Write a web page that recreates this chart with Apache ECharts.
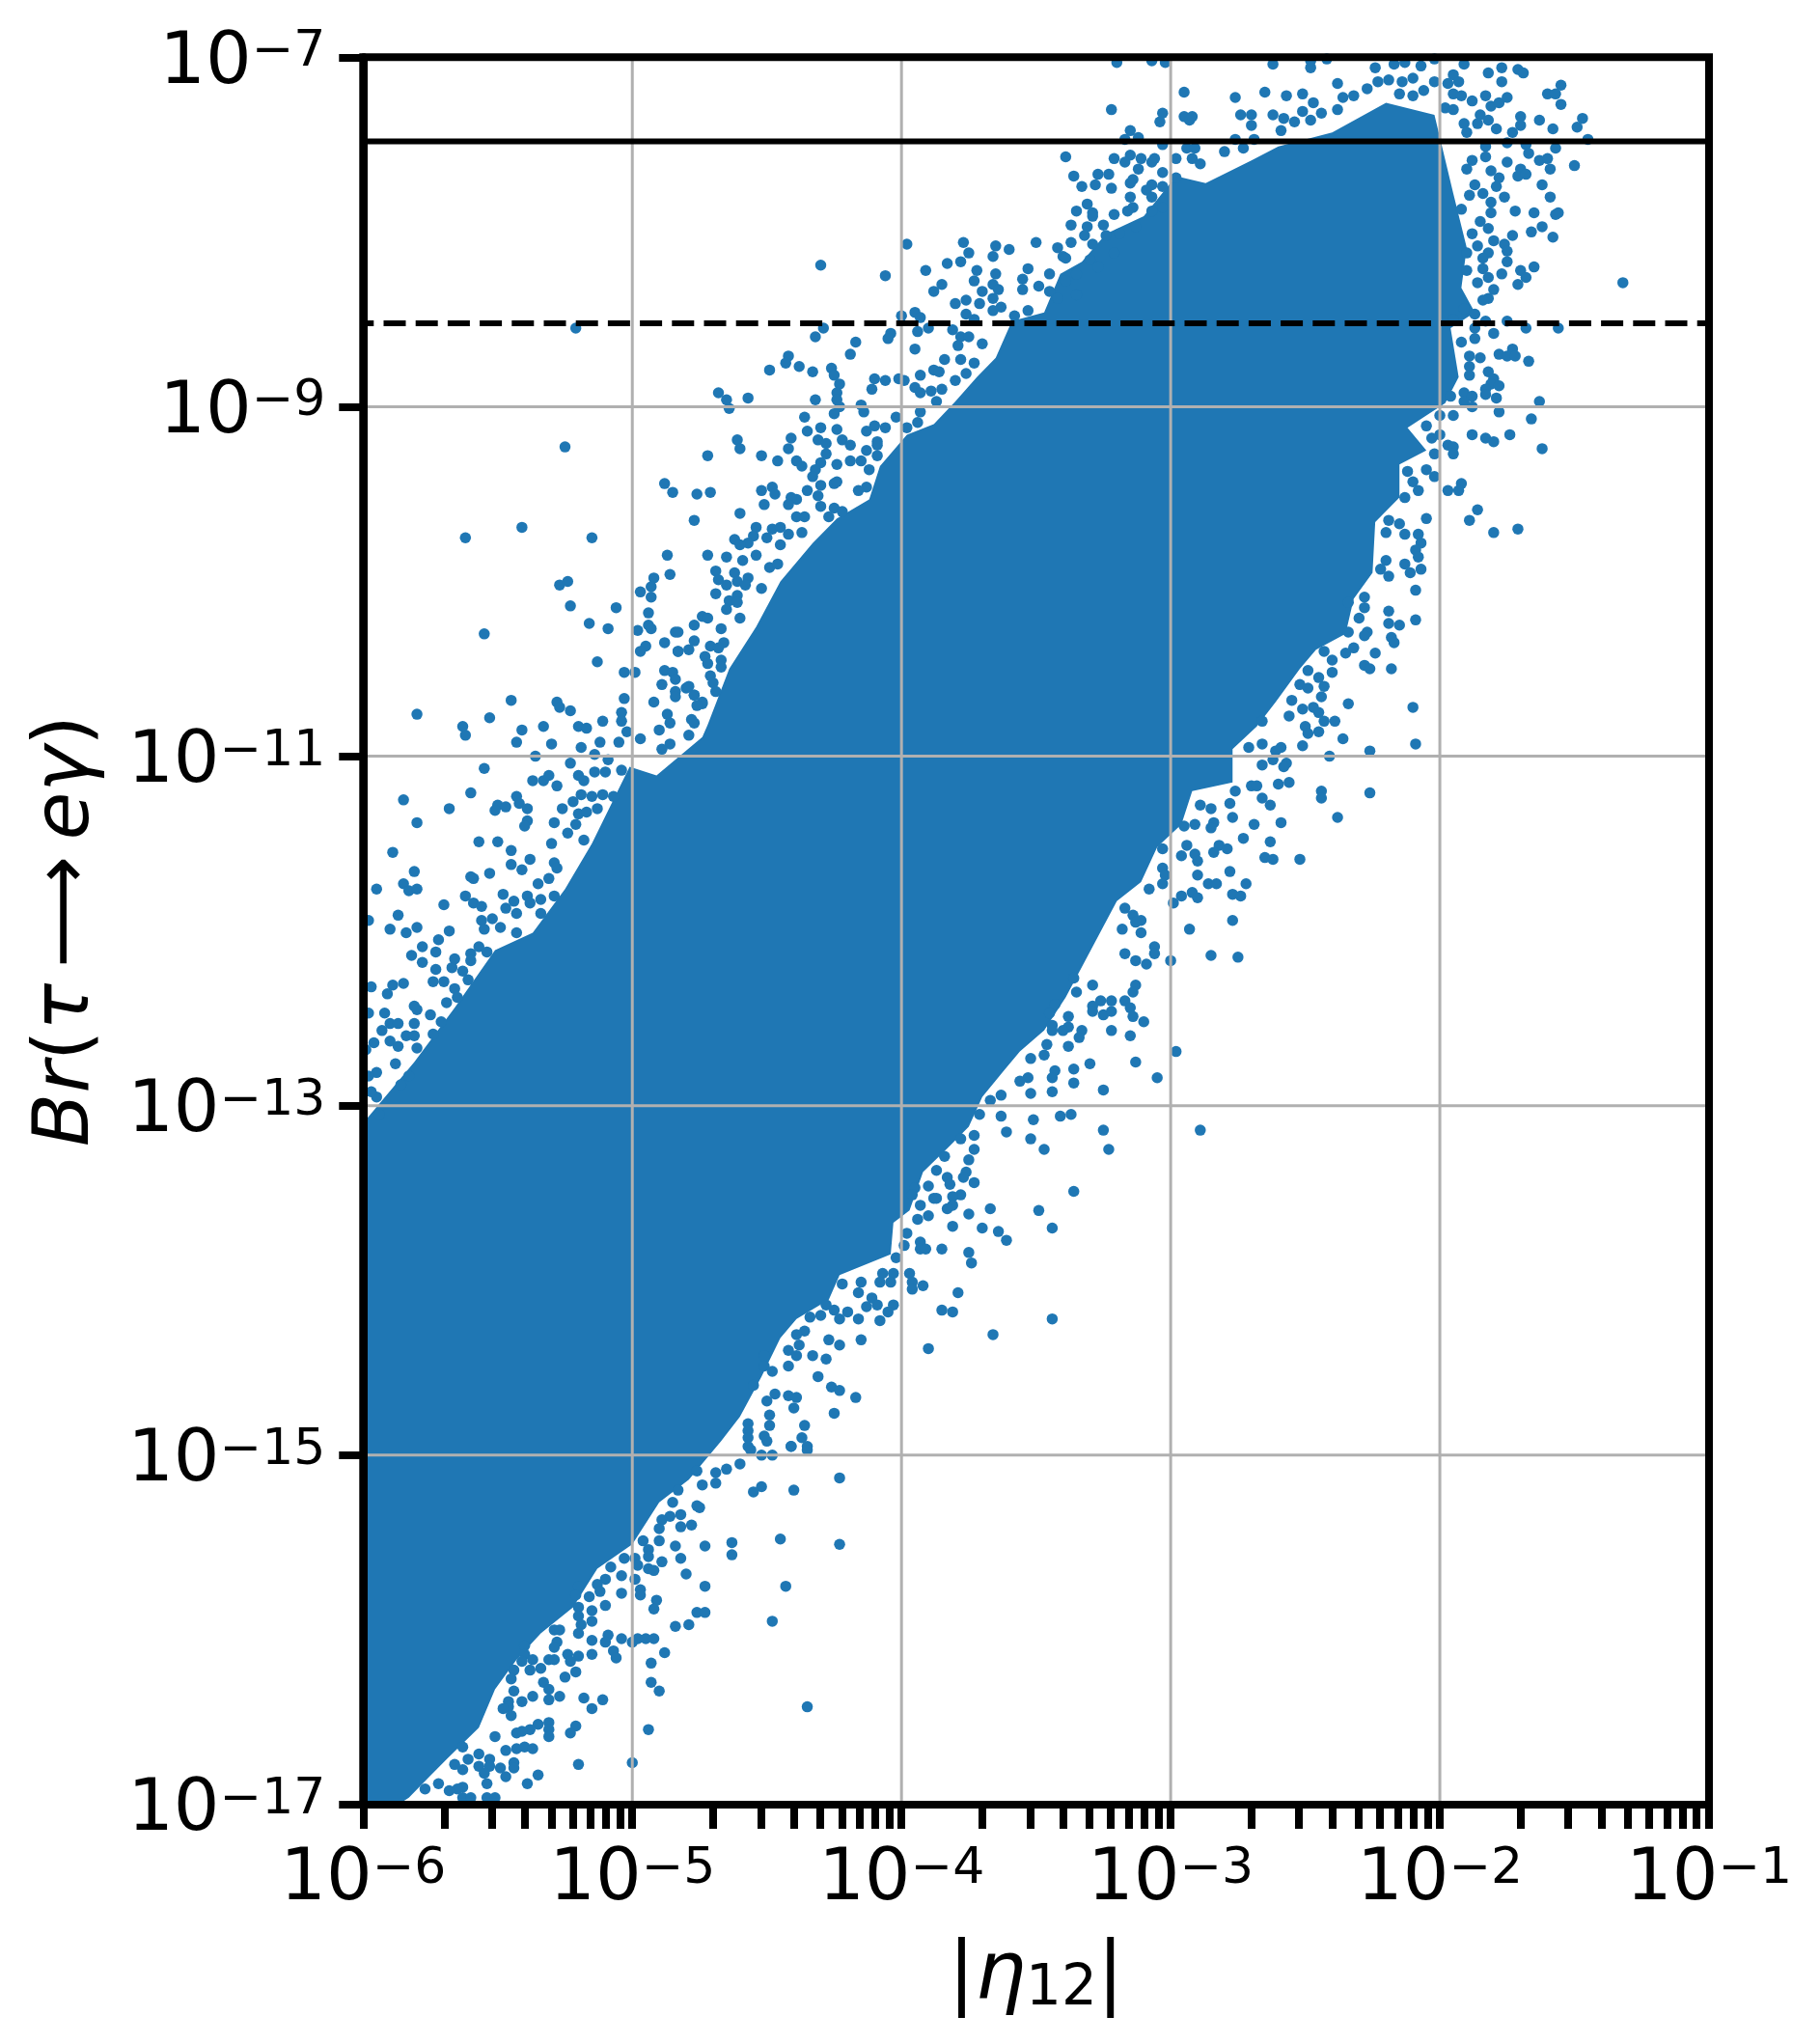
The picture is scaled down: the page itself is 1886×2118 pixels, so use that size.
<!DOCTYPE html>
<html><head><meta charset="utf-8">
<style>html,body{margin:0;padding:0;background:#fff}#c{width:1886px;height:2118px}</style>
<script src="https://cdn.jsdelivr.net/npm/echarts@6/dist/echarts.min.js"></script></head>
<body><div id="c"></div><script>
const xDecades=[1e-6,1e-5,1e-4,1e-3,1e-2,1e-1];
const yDecades=[1e-17,1e-15,1e-13,1e-11,1e-9,1e-7];
const xExp=['−6','−5','−4','−3','−2','−1'];
const yExp=['−17','−15','−13','−11','−9','−7'];
const xMinorTicks=[];
[-6,-5,-4,-3,-2].forEach(e=>[1,2,3,4,5,6,7,8,9].forEach(m=>xMinorTicks.push(+(m+'e'+e))));xMinorTicks.push(1e-1);
const limitCurrent=3.3e-8, limitFuture=3e-9;
// outline of the mostly solid core of the cloud, [log10 eta, log10 Br]
const band=[[-6,-13.1],[-5.81,-12.75],[-5.66,-12.44],[-5.51,-12.11],[-5.37,-12.01],[-5.25,-11.76],[-5.15,-11.5],[-5.01,-11.06],[-4.91,-11.11],[-4.74,-10.89],[-4.72,-10.82],[-4.64,-10.5],[-4.54,-10.26],[-4.45,-10.0],[-4.33,-9.78],[-4.24,-9.64],[-4.12,-9.53],[-4.08,-9.34],[-3.98,-9.16],[-3.88,-9.10],[-3.80,-8.97],[-3.72,-8.83],[-3.65,-8.72],[-3.59,-8.51],[-3.47,-8.46],[-3.41,-8.24],[-3.33,-8.17],[-3.24,-8.01],[-3.10,-7.91],[-2.98,-7.68],[-2.87,-7.72],[-2.70,-7.59],[-2.60,-7.51],[-2.40,-7.43],[-2.20,-7.26],[-2.02,-7.33],[-1.95,-7.78],[-1.90,-8.09],[-1.92,-8.32],[-1.87,-8.46],[-1.96,-8.55],[-1.93,-8.83],[-1.98,-8.98],[-2.12,-9.12],[-2.05,-9.25],[-2.15,-9.33],[-2.15,-9.52],[-2.24,-9.66],[-2.25,-9.95],[-2.32,-10.10],[-2.35,-10.30],[-2.46,-10.39],[-2.52,-10.50],[-2.61,-10.69],[-2.68,-10.83],[-2.77,-10.96],[-2.77,-11.15],[-2.92,-11.20],[-2.96,-11.39],[-3.05,-11.52],[-3.11,-11.72],[-3.20,-11.83],[-3.39,-12.38],[-3.47,-12.57],[-3.56,-12.69],[-3.62,-12.80],[-3.70,-12.95],[-3.75,-13.12],[-3.82,-13.23],[-3.92,-13.38],[-3.97,-13.60],[-4.03,-13.67],[-4.04,-13.85],[-4.23,-13.97],[-4.27,-14.11],[-4.39,-14.22],[-4.45,-14.33],[-4.52,-14.55],[-4.60,-14.78],[-4.67,-14.92],[-4.79,-15.14],[-4.90,-15.27],[-5.0,-15.51],[-5.13,-15.65],[-5.22,-15.87],[-5.34,-16.02],[-5.43,-16.17],[-5.51,-16.34],[-5.57,-16.56],[-5.69,-16.74],[-5.76,-16.85],[-5.83,-16.96],[-5.87,-17],[-6,-17]];
const upperLeftPoints=[[-5.80,-10.76],[-5.63,-10.83],[-5.62,-10.88],[-5.53,-10.78],[-5.45,-10.68],[-5.41,-10.85],[-5.43,-10.92],[-5.33,-10.83],[-5.30,-10.93],[-5.28,-10.69],[-5.27,-10.72],[-5.23,-10.74],[-5.20,-10.83],[-5.17,-10.84],[-5.11,-10.80],[-5.19,-10.95],[-5.12,-10.92],[-5.14,-10.99],[-5.04,-10.75],[-5.04,-10.80],[-5.03,-10.67],[-5.05,-10.92],[-5.02,-10.86],[-4.97,-10.90],[-4.92,-10.69],[-4.89,-10.59],[-4.84,-10.63],[-4.80,-10.61],[-4.77,-10.65],[-4.74,-10.70],[-4.87,-10.76],[-4.86,-10.81],[-4.90,-10.85],[-4.77,-10.81],[-4.79,-10.88],[-4.86,-10.93],[-4.89,-10.96],[-5.36,-11.00],[-5.55,-11.07],[-5.23,-11.04],[-5.09,-11.02],[-5.37,-11.14],[-5.33,-11.14],[-5.31,-11.11],[-5.28,-11.17],[-5.20,-11.11],[-5.18,-11.14],[-5.14,-11.09],[-5.10,-11.09],[-5.04,-11.08],[-5.60,-11.21],[-5.85,-11.25],[-5.68,-11.30],[-5.80,-11.38],[-5.43,-11.23],[-5.42,-11.27],[-5.50,-11.28],[-5.47,-11.29],[-5.51,-11.31],[-5.39,-11.30],[-5.26,-11.30],[-5.22,-11.26],[-5.19,-11.22],[-5.15,-11.23],[-5.11,-11.22],[-5.13,-11.30],[-5.07,-11.23],[-5.29,-11.38],[-5.39,-11.37],[-5.40,-11.40],[-5.20,-11.33],[-5.17,-11.32],[-5.21,-11.39],[-5.57,-11.49],[-5.50,-11.49],[-5.45,-11.54],[-5.30,-11.50],[-5.24,-11.44],[-5.18,-11.48],[-5.89,-11.55],[-5.45,-11.62],[-5.41,-11.65],[-5.38,-11.59],[-5.29,-11.61],[-5.28,-11.64],[-5.81,-11.66],[-5.85,-11.73],[-5.83,-11.77],[-5.80,-11.76],[-5.95,-11.76],[-5.60,-11.69],[-5.59,-11.70],[-5.53,-11.67],[-5.31,-11.70],[-5.35,-11.73],[-5.62,-11.80],[-5.70,-11.85],[-5.59,-11.84],[-5.56,-11.86],[-5.48,-11.79],[-5.44,-11.83],[-5.39,-11.80],[-5.38,-11.84],[-5.34,-11.82],[-5.29,-11.80],[-5.47,-11.87],[-5.43,-11.90],[-5.34,-11.90],[-5.87,-11.91],[-5.98,-11.94],[-5.90,-11.99],[-5.84,-12.01],[-5.80,-11.98],[-5.68,-12.00],[-5.56,-11.94],[-5.52,-11.93],[-5.49,-11.98],[-5.55,-11.99],[-5.43,-12.01],[-5.72,-12.05],[-5.78,-12.09],[-5.82,-12.14],[-5.73,-12.12],[-5.78,-12.18],[-5.66,-12.16],[-5.60,-12.13],[-5.60,-12.17],[-5.57,-12.09],[-5.54,-12.12],[-5.73,-12.22],[-5.67,-12.21],[-5.63,-12.23],[-5.74,-12.29],[-5.70,-12.29],[-5.61,-12.28],[-5.89,-12.31],[-5.85,-12.30],[-5.97,-12.32],[-5.91,-12.36],[-5.66,-12.33],[-5.65,-12.38],[-5.98,-12.47],[-5.92,-12.47],[-5.81,-12.43],[-5.69,-12.41],[-5.80,-12.45],[-5.75,-12.48],[-5.71,-12.52],[-5.90,-12.53],[-5.87,-12.53],[-5.81,-12.53],[-5.93,-12.57],[-5.74,-12.59],[-5.84,-12.60],[-5.81,-12.60],[-5.90,-12.63],[-5.96,-12.64],[-5.87,-12.66],[-5.80,-12.67],[-5.99,-12.68],[-5.88,-12.76],[-5.95,-12.81],[-5.83,-12.83],[-5.98,-12.83],[-5.86,-12.88],[-5.95,-12.95],[-5.97,-12.92],[-5.94,-13.05]];
const farLeftPoints=[[-5.21,-8.55],[-5.25,-9.23],[-4.88,-9.44],[-4.85,-9.49],[-5.62,-9.75],[-5.41,-9.69],[-5.15,-9.75],[-4.87,-9.85],[-4.86,-9.96],[-4.92,-9.98],[-4.93,-10.03],[-4.93,-10.09],[-4.97,-10.06],[-5.27,-10.02],[-5.24,-10.00],[-5.23,-10.14],[-5.06,-10.15],[-4.94,-10.18],[-5.16,-10.24],[-5.09,-10.27],[-4.94,-10.25],[-4.93,-10.27],[-4.98,-10.28],[-4.84,-10.29],[-5.55,-10.30],[-4.88,-10.35],[-4.95,-10.37],[-4.97,-10.40],[-5.13,-10.46],[-5.03,-10.52],[-4.99,-10.52],[-4.88,-10.51],[-4.85,-10.52],[-4.83,-10.40]];
const upperMidPoints=[[-4.30,-8.19],[-4.06,-8.25],[-3.98,-8.07],[-3.91,-8.22],[-3.83,-8.18],[-3.78,-8.17],[-3.75,-8.12],[-3.77,-8.06],[-3.66,-8.14],[-3.65,-8.08],[-3.60,-8.10],[-3.50,-8.06],[-3.42,-8.09],[-3.40,-8.14],[-3.88,-8.34],[-3.85,-8.30],[-3.72,-8.22],[-3.73,-8.28],[-3.65,-8.24],[-3.66,-8.30],[-3.64,-8.33],[-3.70,-8.34],[-3.66,-8.38],[-3.55,-8.27],[-3.55,-8.33],[-3.53,-8.21],[-3.49,-8.31],[-3.45,-8.24],[-3.45,-8.34],[-3.42,-8.38],[-3.80,-8.41],[-3.76,-8.39],[-3.71,-8.41],[-3.63,-8.43],[-3.66,-8.45],[-3.76,-8.47],[-3.95,-8.46],[-3.93,-8.49],[-4.00,-8.48],[-3.58,-8.48],[-3.53,-8.45],[-3.73,-8.50],[-4.29,-8.55],[-4.32,-8.60],[-4.04,-8.58],[-4.05,-8.61],[-3.94,-8.57],[-3.90,-8.55],[-3.81,-8.56],[-3.78,-8.60],[-4.17,-8.63],[-4.19,-8.70],[-3.95,-8.67],[-3.79,-8.65],[-3.75,-8.60],[-3.70,-8.64],[-4.42,-8.71],[-4.43,-8.75],[-4.38,-8.77],[-4.49,-8.79],[-4.33,-8.80],[-4.26,-8.78],[-4.25,-8.82],[-3.84,-8.73],[-3.78,-8.73],[-3.73,-8.75],[-3.88,-8.79],[-3.86,-8.80],[-3.93,-8.82],[-3.76,-8.81],[-4.23,-8.87],[-4.10,-8.84],[-4.06,-8.85],[-4.01,-8.84],[-3.99,-8.85],[-3.80,-8.85],[-4.68,-8.92],[-4.65,-8.96],[-4.57,-8.95],[-4.24,-8.92],[-4.11,-8.90],[-3.95,-8.89],[-3.93,-8.92],[-3.89,-8.91],[-3.85,-8.90],[-4.32,-8.96],[-4.24,-8.96],[-3.87,-8.97],[-4.64,-9.01],[-4.23,-9.00],[-4.15,-8.99],[-4.14,-9.03],[-4.25,-9.04],[-4.36,-9.06],[-4.02,-9.06],[-3.93,-9.03],[-3.94,-9.09],[-3.98,-9.12],[-4.30,-9.12],[-4.24,-9.13],[-4.10,-9.11],[-4.13,-9.14],[-4.06,-9.12],[-4.35,-9.14],[-4.61,-9.19],[-4.41,-9.18],[-4.31,-9.19],[-4.22,-9.19],[-4.09,-9.20],[-4.60,-9.24],[-4.42,-9.24],[-4.28,-9.21],[-4.19,-9.22],[-4.09,-9.22],[-4.72,-9.28],[-4.52,-9.28],[-4.28,-9.27],[-4.13,-9.25],[-4.09,-9.28],[-4.46,-9.31],[-4.39,-9.31],[-4.37,-9.34],[-4.19,-9.31],[-4.15,-9.31],[-4.24,-9.33],[-4.30,-9.32],[-4.12,-9.36],[-4.32,-9.36],[-4.33,-9.40],[-4.25,-9.44],[-4.24,-9.43],[-4.30,-9.45],[-4.48,-9.46],[-4.52,-9.48],[-4.35,-9.48],[-4.13,-9.46],[-4.16,-9.48],[-4.76,-9.50],[-4.71,-9.49],[-4.47,-9.50],[-4.31,-9.51],[-4.39,-9.53],[-4.41,-9.52],[-4.51,-9.56],[-4.42,-9.56],[-4.30,-9.57],[-4.25,-9.58],[-4.22,-9.60],[-4.60,-9.61],[-4.77,-9.65],[-4.39,-9.63],[-4.36,-9.63],[-4.27,-9.63],[-4.54,-9.69],[-4.48,-9.70],[-4.45,-9.69],[-4.37,-9.72],[-4.42,-9.73],[-4.62,-9.76],[-4.55,-9.74],[-4.50,-9.75],[-4.57,-9.78],[-4.60,-9.79],[-4.45,-9.79],[-4.65,-9.86],[-4.72,-9.85],[-4.54,-9.85],[-4.59,-9.88],[-4.49,-9.92],[-4.46,-9.90],[-4.69,-9.94],[-4.62,-9.95],[-4.68,-9.99],[-4.57,-9.98],[-4.65,-10.02],[-4.61,-10.00],[-4.58,-10.02],[-4.52,-10.04],[-4.69,-10.07],[-4.61,-10.08],[-4.64,-10.11],[-4.61,-10.12],[-4.65,-10.16],[-4.74,-10.20],[-4.72,-10.21],[-4.60,-10.21],[-4.77,-10.25],[-4.67,-10.27],[-4.83,-10.29],[-4.77,-10.34],[-4.66,-10.35],[-4.83,-10.40],[-4.79,-10.39],[-4.71,-10.37],[-4.68,-10.38],[-4.73,-10.43],[-4.67,-10.45],[-4.72,-10.47],[-4.67,-10.49],[-4.71,-10.54],[-4.84,-10.56],[-4.70,-10.58],[-4.79,-10.60],[-4.69,-10.63],[-4.77,-10.65],[-4.84,-10.66],[-4.74,-10.69],[-4.76,-10.71],[-4.78,-10.79]];
const upperRightPoints=[[-1.32,-8.29],[-3.20,-7.03],[-3.07,-7.02],[-3.02,-7.03],[-2.62,-7.04],[-2.48,-7.06],[-2.48,-7.02],[-2.42,-7.01],[-2.24,-7.06],[-2.17,-7.04],[-2.13,-7.03],[-2.07,-7.05],[-2.02,-7.01],[-1.91,-7.04],[-1.82,-7.09],[-1.77,-7.06],[-1.71,-7.07],[-1.69,-7.09],[-1.77,-7.14],[-1.95,-7.10],[-1.93,-7.14],[-1.97,-7.15],[-1.55,-7.16],[-1.60,-7.21],[-1.57,-7.21],[-1.55,-7.27],[-2.38,-7.15],[-2.23,-7.14],[-2.19,-7.13],[-2.14,-7.14],[-2.10,-7.12],[-2.02,-7.14],[-2.95,-7.20],[-2.76,-7.23],[-2.65,-7.20],[-2.57,-7.22],[-2.51,-7.21],[-2.47,-7.26],[-2.36,-7.23],[-2.32,-7.22],[-2.27,-7.18],[-2.06,-7.19],[-2.15,-7.21],[-2.10,-7.22],[-1.95,-7.21],[-1.92,-7.22],[-1.88,-7.25],[-1.83,-7.22],[-1.81,-7.28],[-1.78,-7.26],[-1.75,-7.23],[-3.22,-7.30],[-3.03,-7.32],[-3.04,-7.37],[-2.95,-7.34],[-2.93,-7.36],[-2.92,-7.34],[-2.74,-7.33],[-2.70,-7.33],[-2.70,-7.39],[-2.62,-7.33],[-2.58,-7.35],[-2.51,-7.31],[-2.44,-7.32],[-2.38,-7.30],[-1.98,-7.29],[-1.95,-7.30],[-1.85,-7.33],[-1.82,-7.36],[-1.70,-7.34],[-1.63,-7.36],[-1.47,-7.35],[-2.54,-7.37],[-2.48,-7.36],[-1.91,-7.38],[-1.86,-7.38],[-1.70,-7.39],[-1.58,-7.41],[-1.49,-7.40],[-3.15,-7.42],[-3.12,-7.46],[-2.76,-7.47],[-2.59,-7.42],[-1.90,-7.43],[-1.79,-7.41],[-1.73,-7.43],[-1.45,-7.47],[-3.17,-7.47],[-2.69,-7.47],[-3.03,-7.50],[-1.83,-7.51],[-1.75,-7.49],[-1.68,-7.50],[-1.57,-7.52],[-2.94,-7.52],[-2.91,-7.52],[-2.80,-7.54],[-2.73,-7.52],[-3.39,-7.57],[-3.21,-7.58],[-3.15,-7.56],[-3.11,-7.58],[-3.06,-7.58],[-2.98,-7.58],[-2.92,-7.58],[-1.83,-7.57],[-1.67,-7.55],[-1.63,-7.59],[-1.60,-7.58],[-3.17,-7.60],[-3.07,-7.60],[-2.89,-7.61],[-1.88,-7.59],[-1.75,-7.60],[-1.50,-7.62],[-3.12,-7.64],[-3.03,-7.66],[-1.90,-7.64],[-1.81,-7.65],[-1.70,-7.64],[-1.59,-7.64],[-3.36,-7.68],[-3.27,-7.67],[-3.23,-7.67],[-1.71,-7.68],[-1.68,-7.67],[-1.78,-7.69],[-2.98,-7.69],[-3.14,-7.70],[-3.33,-7.74],[-3.28,-7.73],[-3.22,-7.75],[-3.15,-7.72],[-3.07,-7.73],[-3.03,-7.74],[-1.87,-7.73],[-1.62,-7.73],[-3.09,-7.76],[-1.79,-7.74],[-1.84,-7.78],[-1.76,-7.80],[-1.59,-7.80],[-3.15,-7.80],[-3.07,-7.80],[-1.89,-7.79],[-3.31,-7.84],[-3.14,-7.86],[-3.03,-7.86],[-1.81,-7.83],[-3.35,-7.88],[-3.29,-7.89],[-3.16,-7.88],[-3.07,-7.88],[-1.92,-7.87],[-1.72,-7.88],[-1.65,-7.89],[-1.56,-7.89],[-1.81,-7.89],[-3.21,-7.90],[-1.57,-7.90],[-3.29,-7.91],[-3.37,-7.96],[-3.31,-7.97],[-3.25,-7.96],[-3.13,-7.97],[-1.62,-7.97],[-1.85,-7.94],[-1.82,-7.98],[-3.32,-8.02],[-3.24,-8.02],[-3.19,-8.01],[-1.66,-8.00],[-1.58,-8.03],[-1.88,-8.01],[-1.73,-8.02],[-1.80,-8.05],[-3.37,-8.06],[-3.29,-8.07],[-1.76,-8.07],[-1.86,-8.08],[-3.21,-8.12],[-1.90,-8.12],[-1.82,-8.12],[-1.75,-8.11],[-3.39,-8.15],[-1.84,-8.15],[-3.30,-8.16],[-1.75,-8.17],[-1.65,-8.20],[-3.27,-8.20],[-3.35,-8.24],[-1.70,-8.22],[-1.84,-8.21],[-1.90,-8.22],[-1.77,-8.24],[-1.68,-8.26],[-1.82,-8.26],[-1.71,-8.30],[-1.86,-8.29],[-3.39,-8.28],[-3.35,-8.36],[-1.80,-8.33],[-1.82,-8.38],[-1.84,-8.39],[-1.91,-8.44],[-1.87,-8.47],[-1.83,-8.51],[-1.75,-8.51],[-1.95,-8.50],[-1.68,-8.55],[-1.56,-8.55],[-1.87,-8.55],[-1.80,-8.58],[-1.87,-8.61],[-1.92,-8.63],[-1.73,-8.67],[-1.78,-8.70],[-1.75,-8.71],[-1.72,-8.71],[-1.89,-8.71],[-1.85,-8.72],[-1.67,-8.74],[-1.89,-8.77],[-1.89,-8.82],[-1.82,-8.80],[-1.80,-8.84],[-1.81,-8.87],[-1.78,-8.88],[-1.83,-8.90],[-1.91,-8.92],[-1.88,-8.94],[-1.83,-8.93],[-1.79,-8.95],[-1.63,-8.97],[-1.96,-8.94],[-1.91,-8.97],[-1.88,-9.00],[-1.78,-9.03],[-1.95,-9.05],[-1.66,-9.07],[-2.00,-9.05],[-2.05,-9.11],[-2.00,-9.16],[-1.88,-9.16],[-1.74,-9.16],[-1.83,-9.18],[-1.80,-9.20],[-2.03,-9.18],[-1.97,-9.22],[-1.95,-9.23],[-1.62,-9.24],[-1.95,-9.27],[-2.02,-9.27],[-2.05,-9.36],[-2.12,-9.37],[-2.02,-9.40],[-1.92,-9.44],[-2.10,-9.43],[-1.97,-9.48],[-1.93,-9.48],[-2.08,-9.48],[-2.13,-9.52],[-1.86,-9.59],[-2.05,-9.64],[-1.89,-9.65],[-2.19,-9.65],[-2.15,-9.67],[-2.20,-9.72],[-2.13,-9.73],[-2.08,-9.73],[-1.71,-9.70],[-1.80,-9.72],[-2.07,-9.78],[-2.09,-9.82],[-2.20,-9.88],[-2.08,-9.86],[-2.13,-9.90],[-2.22,-9.93],[-2.11,-9.95],[-2.07,-9.93],[-2.19,-9.97],[-2.09,-10.05]];
const lowerRightPoints=[[-2.28,-10.09],[-2.34,-10.12],[-2.28,-10.15],[-2.19,-10.17],[-2.09,-10.22],[-2.30,-10.21],[-2.19,-10.24],[-2.15,-10.25],[-2.34,-10.29],[-2.27,-10.29],[-2.28,-10.31],[-2.18,-10.32],[-2.17,-10.35],[-2.32,-10.38],[-2.35,-10.41],[-2.24,-10.41],[-2.43,-10.40],[-2.40,-10.45],[-2.28,-10.48],[-2.26,-10.50],[-2.18,-10.50],[-2.49,-10.51],[-2.40,-10.52],[-2.45,-10.55],[-2.52,-10.59],[-2.43,-10.60],[-2.49,-10.61],[-2.44,-10.66],[-2.55,-10.68],[-2.34,-10.70],[-2.10,-10.72],[-2.51,-10.73],[-2.47,-10.72],[-2.45,-10.75],[-2.56,-10.77],[-2.66,-10.80],[-2.43,-10.80],[-2.39,-10.80],[-2.50,-10.83],[-2.45,-10.86],[-2.49,-10.87],[-2.36,-10.90],[-2.09,-10.93],[-2.66,-10.93],[-2.51,-10.94],[-2.59,-10.95],[-2.61,-10.97],[-2.71,-10.95],[-2.26,-10.97],[-2.41,-11.00],[-2.62,-11.02],[-2.57,-11.04],[-2.66,-11.05],[-2.58,-11.06],[-2.60,-11.16],[-2.56,-11.15],[-2.70,-11.17],[-2.68,-11.17],[-2.44,-11.20],[-2.26,-11.21],[-2.76,-11.20],[-2.44,-11.24],[-2.66,-11.24],[-2.78,-11.27],[-2.63,-11.28],[-2.89,-11.28],[-2.85,-11.30],[-2.77,-11.35],[-2.38,-11.35],[-2.59,-11.38],[-2.84,-11.38],[-2.69,-11.39],[-2.91,-11.39],[-2.85,-11.41],[-2.95,-11.40],[-2.73,-11.47],[-2.63,-11.49],[-2.94,-11.51],[-2.82,-11.51],[-2.79,-11.53],[-2.84,-11.55],[-3.03,-11.53],[-2.96,-11.57],[-2.91,-11.56],[-2.65,-11.58],[-2.62,-11.59],[-2.52,-11.59],[-2.90,-11.60],[-3.03,-11.64],[-2.78,-11.66],[-2.90,-11.68],[-3.02,-11.68],[-2.86,-11.73],[-2.83,-11.73],[-2.72,-11.73],[-3.03,-11.73],[-3.08,-11.76],[-2.96,-11.80],[-2.92,-11.78],[-2.90,-11.81],[-2.77,-11.79],[-2.74,-11.80],[-2.99,-11.84],[-3.17,-11.87],[-3.14,-11.91],[-3.11,-11.94],[-3.13,-11.95],[-2.77,-11.94],[-2.93,-11.99],[-3.18,-11.99],[-3.11,-12.01],[-3.06,-12.09],[-3.06,-12.13],[-3.17,-12.13],[-2.85,-12.14],[-2.75,-12.15],[-3.13,-12.17],[-3.00,-12.17],[-3.09,-12.19]];
const lowerMidPoints=[[-3.36,-12.27],[-3.29,-12.31],[-3.13,-12.31],[-3.14,-12.35],[-3.35,-12.35],[-3.17,-12.40],[-3.22,-12.40],[-3.26,-12.40],[-3.29,-12.43],[-3.15,-12.44],[-3.29,-12.46],[-3.25,-12.48],[-3.22,-12.46],[-3.43,-12.42],[-3.45,-12.47],[-3.38,-12.49],[-3.14,-12.49],[-3.10,-12.52],[-3.44,-12.54],[-3.38,-12.55],[-3.44,-12.57],[-3.40,-12.57],[-3.22,-12.57],[-3.33,-12.57],[-3.34,-12.61],[-3.15,-12.60],[-3.46,-12.65],[-3.38,-12.66],[-3.52,-12.73],[-3.47,-12.71],[-2.98,-12.69],[-3.13,-12.75],[-3.30,-12.76],[-3.36,-12.79],[-3.43,-12.80],[-3.44,-12.84],[-3.05,-12.84],[-3.53,-12.84],[-3.56,-12.86],[-3.36,-12.87],[-3.25,-12.91],[-3.52,-12.93],[-3.44,-12.92],[-3.63,-12.94],[-3.67,-12.97],[-3.71,-13.05],[-3.63,-13.06],[-3.41,-13.06],[-3.37,-13.05],[-3.51,-13.08],[-3.25,-13.14],[-2.89,-13.14],[-3.61,-13.15],[-3.52,-13.19],[-3.73,-13.17],[-3.78,-13.19],[-3.47,-13.25],[-3.23,-13.25],[-3.73,-13.25],[-3.84,-13.29],[-3.75,-13.31],[-3.87,-13.37],[-3.76,-13.38],[-3.77,-13.41],[-3.83,-13.41],[-3.73,-13.44],[-3.82,-13.45],[-3.90,-13.46],[-3.95,-13.47],[-3.36,-13.49],[-3.78,-13.51],[-3.81,-13.52],[-3.88,-13.53],[-3.87,-13.53],[-3.96,-13.51],[-3.93,-13.57],[-3.81,-13.57],[-3.83,-13.59],[-3.67,-13.59],[-3.49,-13.60],[-3.75,-13.62],[-3.90,-13.63],[-3.94,-13.65],[-3.81,-13.69],[-3.70,-13.70],[-3.44,-13.70],[-3.64,-13.72],[-3.98,-13.73],[-3.61,-13.77],[-3.99,-13.80],[-3.93,-13.78],[-3.93,-13.82],[-3.91,-13.82],[-3.85,-13.82],[-3.75,-13.84],[-4.02,-13.87],[-3.74,-13.90],[-4.03,-13.96],[-3.97,-13.96],[-4.07,-13.96],[-3.96,-14.01],[-4.04,-14.01],[-4.15,-14.01],[-4.08,-14.01],[-4.22,-14.02],[-3.92,-14.03],[-3.96,-14.05],[-3.79,-14.07],[-4.16,-14.07],[-4.11,-14.10],[-4.09,-14.14],[-4.03,-14.14],[-4.13,-14.15],[-4.28,-14.14],[-3.85,-14.17],[-3.81,-14.18],[-4.25,-14.17],[-4.20,-14.18],[-4.05,-14.18],[-4.34,-14.21],[-4.30,-14.20],[-4.23,-14.22],[-4.16,-14.22],[-3.44,-14.22],[-4.08,-14.23],[-4.36,-14.29],[-4.39,-14.31],[-3.66,-14.31],[-4.27,-14.34],[-4.15,-14.34],[-4.23,-14.37],[-4.38,-14.37],[-3.90,-14.39],[-4.42,-14.40],[-4.39,-14.43],[-4.33,-14.43],[-4.28,-14.45],[-4.51,-14.43],[-4.42,-14.49],[-4.51,-14.49],[-4.48,-14.52],[-4.31,-14.55],[-4.55,-14.60],[-4.26,-14.61],[-4.23,-14.63],[-4.47,-14.65],[-4.42,-14.66],[-4.39,-14.67],[-4.50,-14.69],[-4.17,-14.67],[-4.40,-14.73],[-4.49,-14.77],[-4.25,-14.76],[-4.57,-14.82],[-4.36,-14.83],[-4.49,-14.83],[-4.57,-14.86],[-4.37,-14.90],[-4.51,-14.89],[-4.57,-14.90],[-4.50,-14.92],[-4.41,-14.95],[-4.35,-14.95],[-4.57,-14.95]];
const lowerLeftPoints=[[-4.60,-15.05],[-4.65,-15.08],[-4.69,-15.10],[-4.69,-15.16],[-4.52,-15.00],[-4.48,-15.00],[-4.56,-14.97],[-4.41,-14.95],[-4.35,-14.97],[-4.23,-15.13],[-4.40,-15.20],[-4.52,-15.18],[-4.55,-15.21],[-4.74,-15.17],[-4.76,-15.09],[-4.83,-15.20],[-4.85,-15.27],[-4.76,-15.29],[-4.75,-15.30],[-4.82,-15.34],[-4.86,-15.35],[-4.89,-15.37],[-4.78,-15.40],[-4.82,-15.41],[-4.90,-15.42],[-4.45,-15.48],[-4.90,-15.49],[-4.96,-15.49],[-4.63,-15.50],[-4.73,-15.52],[-4.84,-15.52],[-4.23,-15.51],[-4.63,-15.57],[-4.94,-15.54],[-4.94,-15.58],[-4.82,-15.59],[-5.03,-15.59],[-4.89,-15.61],[-4.99,-15.59],[-5.08,-15.64],[-4.98,-15.63],[-4.94,-15.65],[-4.92,-15.66],[-4.80,-15.68],[-5.04,-15.69],[-5.10,-15.71],[-4.99,-15.71],[-5.13,-15.74],[-5.20,-15.75],[-4.73,-15.75],[-4.43,-15.75],[-4.97,-15.77],[-5.12,-15.78],[-5.04,-15.79],[-4.97,-15.80],[-5.21,-15.80],[-5.16,-15.81],[-4.91,-15.83],[-5.20,-15.87],[-5.10,-15.86],[-4.92,-15.88],[-5.15,-15.89],[-4.76,-15.90],[-4.73,-15.90],[-5.20,-15.92],[-5.15,-15.95],[-4.48,-15.95],[-4.79,-15.97],[-4.84,-15.98],[-5.19,-15.97],[-5.29,-16.00],[-5.27,-16.00],[-5.20,-16.02],[-5.09,-16.03],[-5.04,-16.05],[-4.98,-16.05],[-4.95,-16.05],[-4.92,-16.05],[-5.15,-16.06],[-5.28,-16.07],[-5.10,-16.07],[-5.00,-16.07],[-5.40,-16.09],[-5.29,-16.10],[-5.07,-16.12],[-4.88,-16.13],[-5.24,-16.14],[-5.15,-16.14],[-5.40,-16.14],[-5.20,-16.15],[-5.06,-16.16],[-5.31,-16.17],[-5.37,-16.17],[-5.23,-16.18],[-5.29,-16.17],[-4.93,-16.19],[-5.41,-16.18],[-5.44,-16.23],[-5.34,-16.22],[-5.38,-16.23],[-5.21,-16.24],[-5.25,-16.27],[-5.45,-16.28],[-5.33,-16.30],[-4.93,-16.30],[-4.90,-16.35],[-5.31,-16.34],[-5.44,-16.35],[-5.27,-16.38],[-5.37,-16.38],[-5.18,-16.39],[-5.11,-16.40],[-5.31,-16.40],[-5.46,-16.41],[-5.41,-16.41],[-5.46,-16.44],[-5.15,-16.45],[-4.35,-16.44],[-5.48,-16.45],[-5.45,-16.49],[-5.35,-16.54],[-5.31,-16.53],[-5.21,-16.55],[-5.31,-16.57],[-4.94,-16.57],[-5.38,-16.57],[-5.43,-16.59],[-5.41,-16.58],[-5.23,-16.59],[-5.51,-16.61],[-5.31,-16.61],[-5.47,-16.69],[-5.43,-16.68],[-5.40,-16.67],[-5.37,-16.68],[-5.57,-16.71],[-5.63,-16.67],[-5.61,-16.74],[-5.53,-16.74],[-5.44,-16.76],[-5.66,-16.77],[-5.20,-16.77],[-5.00,-16.76],[-5.57,-16.78],[-5.53,-16.78],[-5.49,-16.79],[-5.44,-16.79],[-5.63,-16.80],[-5.55,-16.82],[-5.72,-16.88],[-5.35,-16.83],[-5.47,-16.84],[-5.77,-16.91],[-5.63,-16.90],[-5.54,-16.88],[-5.39,-16.88],[-5.65,-16.91],[-5.68,-16.92],[-5.63,-16.96],[-5.60,-16.96],[-5.54,-16.96],[-5.51,-16.96]];
const allPoints=[].concat(upperLeftPoints,farLeftPoints,upperMidPoints,upperRightPoints,lowerRightPoints,lowerMidPoints,lowerLeftPoints);
const blue='#1f77b4', F='"DejaVu Sans"';
const pow=q=>[Math.pow(10,q[0]),Math.pow(10,q[1])];
const rich={b:{fontFamily:F,fontSize:75,color:'#000',verticalAlign:'middle',lineHeight:75},s:{fontFamily:F,fontSize:52,color:'#000',verticalAlign:'top',lineHeight:35}};
const expFmt=(list,exps)=>v=>{const i=list.findIndex(d=>Math.abs(Math.log10(d)-Math.log10(v))<1e-6);return '{b|10}{s|'+exps[i]+'}';};
const gridLine=d=>({type:'line',z:10,silent:true,showSymbol:false,symbol:'none',lineStyle:{color:'#b0b0b0',width:3},data:d});
const gridSeries=[].concat(xDecades.slice(1,-1).map(d=>gridLine([[d,1e-17],[d,1e-7]])),yDecades.slice(1,-1).map(d=>gridLine([[1e-6,d],[1e-1,d]])));
const chart=echarts.init(document.getElementById('c'),null,{renderer:'canvas'});
chart.setOption({animation:false,backgroundColor:'#fff',
grid:{left:376.3,right:115,top:59.3,bottom:248,show:true,borderColor:'#000',borderWidth:8,backgroundColor:'transparent',z:12,outerBoundsMode:'none',containLabel:false},
xAxis:{type:'log',min:1e-6,max:1e-1,logBase:10,z:13,
 name:'{bar||}{i|η}{sub|12}{bar||}',nameLocation:'middle',nameGap:138,nameTextStyle:{rich:{bar:{fontFamily:F,fontSize:83,color:'#000'},i:{fontFamily:F,fontStyle:'italic',fontSize:83,color:'#000'},sub:{fontFamily:F,fontSize:58,color:'#000',verticalAlign:'bottom'}}},
 axisLine:{show:true,onZero:false,lineStyle:{color:'#000',width:8}},
 axisTick:{show:true,length:25,lineStyle:{color:'#000',width:8},customValues:xMinorTicks},
 minorTick:{show:false},splitLine:{show:false},
 axisLabel:{margin:41,customValues:xDecades,formatter:expFmt(xDecades,xExp),rich,hideOverlap:false,showMinLabel:true,showMaxLabel:true}},
yAxis:{type:'log',min:1e-17,max:1e-7,logBase:10,z:13,
 name:'{i|Br}{r|(}{i|τ}{r|\u2009⟶\u2009}{i|eγ}{r|)}',nameLocation:'middle',nameGap:266,nameRotate:90,nameTextStyle:{rich:{r:{fontFamily:F,fontSize:81,color:'#000'},i:{fontFamily:F,fontStyle:'italic',fontSize:81,color:'#000'}}},
 axisLine:{show:true,onZero:false,lineStyle:{color:'#000',width:8}},
 axisTick:{show:true,length:25,lineStyle:{color:'#000',width:8},customValues:yDecades},
 minorTick:{show:false},splitLine:{show:false},
 axisLabel:{margin:39,padding:[14,0,0,0],customValues:yDecades,formatter:expFmt(yDecades,yExp),rich,hideOverlap:false,showMinLabel:true,showMaxLabel:true}},
series:[
 {type:'custom',z:2,clip:true,silent:true,data:[[1e-4,1e-11]],renderItem:(p,api)=>({type:'polygon',shape:{points:band.map(q=>api.coord(pow(q)))},style:{fill:blue}})},
 {type:'scatter',z:3,clip:true,silent:true,symbolSize:11.5,itemStyle:{color:blue,opacity:1},large:false,data:allPoints.map(pow)},
 ...gridSeries,
 {type:'line',z:11,silent:true,showSymbol:false,symbol:'none',lineStyle:{color:'#000',width:6},data:[[1e-6,limitCurrent],[1e-1,limitCurrent]]},
 {type:'line',z:11,silent:true,showSymbol:false,symbol:'none',lineStyle:{color:'#000',width:6,type:[23,10.2],dashOffset:12},data:[[1e-6,limitFuture],[1e-1,limitFuture]]}
]});
</script></body></html>
